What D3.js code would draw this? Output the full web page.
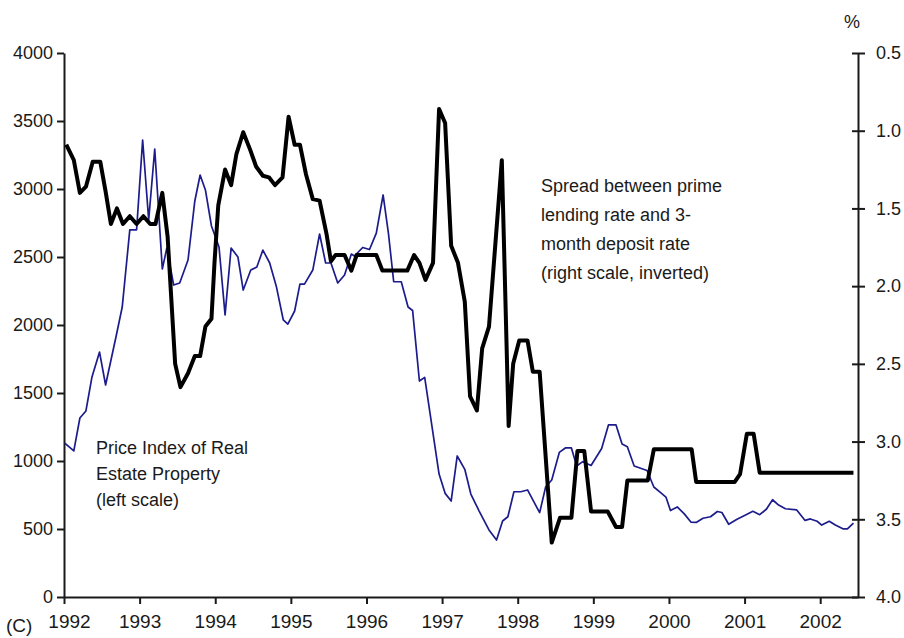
<!DOCTYPE html>
<html>
<head>
<meta charset="utf-8">
<script src="https://cdn.jsdelivr.net/npm/d3@7"></script>
<style>
    body { margin: 0; background: #fff; }
    svg text { font-family: "Liberation Sans", Arial, sans-serif; font-size: 18px; fill: #1a1a1a; }
    .axis path, .axis line { stroke: #1a1a1a; stroke-width: 2; }
    .x-axis text, .corner { font-size: 19px; }
</style>
</head>
<body>
<svg id="chart" width="904" height="638"></svg>
<script>
// price index of real estate property (left scale)
var priceYears = [ 1992.01, 1992.13, 1992.21, 1992.29, 1992.37, 1992.47, 1992.55, 1992.69, 1992.77, 1992.87,
    1992.96, 1993.04, 1993.12, 1993.20, 1993.30, 1993.36, 1993.45, 1993.53, 1993.64, 1993.73,
    1993.80, 1993.87, 1993.95, 1994.05, 1994.13, 1994.21, 1994.30, 1994.37, 1994.47, 1994.55,
    1994.63, 1994.72, 1994.81, 1994.90, 1994.96, 1995.05, 1995.12, 1995.18, 1995.29, 1995.38,
    1995.46, 1995.53, 1995.62, 1995.71, 1995.80, 1995.84, 1995.95, 1996.04, 1996.13, 1996.22,
    1996.29, 1996.36, 1996.46, 1996.55, 1996.61, 1996.70, 1996.77, 1996.96, 1997.04, 1997.12,
    1997.20, 1997.30, 1997.38, 1997.49, 1997.62, 1997.72, 1997.80, 1997.87, 1997.95, 1998.04,
    1998.13, 1998.29, 1998.37, 1998.45, 1998.55, 1998.63, 1998.71, 1998.78, 1998.86, 1998.97,
    1999.11, 1999.20, 1999.30, 1999.38, 1999.45, 1999.54, 1999.71, 1999.80, 1999.89, 1999.96,
    2000.02, 2000.11, 2000.20, 2000.29, 2000.36, 2000.45, 2000.55, 2000.64, 2000.70, 2000.79,
    2000.90, 2001.00, 2001.11, 2001.20, 2001.29, 2001.37, 2001.45, 2001.54, 2001.69, 2001.80,
    2001.87, 2001.96, 2002.02, 2002.12, 2002.20, 2002.30, 2002.36, 2002.44 ];
var priceIndex = [ 1132, 1074, 1316, 1368, 1618, 1801, 1559, 1919, 2132, 2699,
    2700, 3360, 2772, 3294, 2412, 2566, 2294, 2309, 2478, 2912,
    3103, 2993, 2728, 2574, 2074, 2566, 2500, 2257, 2404, 2426,
    2551, 2456, 2279, 2037, 2007, 2103, 2301, 2301, 2404, 2669,
    2456, 2456, 2309, 2368, 2522, 2507, 2570, 2555, 2676, 2956,
    2676, 2318, 2318, 2132, 2107, 1588, 1615, 904, 762, 706,
    1037, 939, 757, 632, 493, 419, 559, 590, 774, 774,
    787, 620, 811, 860, 1063, 1096, 1096, 963, 995, 967,
    1092, 1265, 1265, 1125, 1105, 963, 930, 809, 768, 735,
    636, 662, 613, 551, 548, 579, 590, 629, 621, 535,
    572, 599, 630, 605, 647, 715, 676, 649, 640, 563,
    574, 557, 529, 557, 529, 501, 501, 544 ];

// spread between prime lending rate and 3-month deposit rate (right scale, inverted)
var spreadYears = [ 1992.03, 1992.13, 1992.21, 1992.29, 1992.38, 1992.48, 1992.55, 1992.62, 1992.70, 1992.78,
    1992.87, 1992.96, 1993.05, 1993.14, 1993.21, 1993.30, 1993.37, 1993.47, 1993.54, 1993.64,
    1993.73, 1993.80, 1993.87, 1993.95, 1993.99, 1994.04, 1994.13, 1994.21, 1994.28, 1994.37,
    1994.46, 1994.54, 1994.63, 1994.71, 1994.79, 1994.89, 1994.97, 1995.05, 1995.12, 1995.20,
    1995.29, 1995.38, 1995.47, 1995.53, 1995.59, 1995.71, 1995.80, 1995.87, 1996.13, 1996.21,
    1996.54, 1996.63, 1996.70, 1996.78, 1996.88, 1996.96, 1997.04, 1997.12, 1997.21, 1997.30,
    1997.37, 1997.46, 1997.53, 1997.62, 1997.79, 1997.88, 1997.94, 1998.02, 1998.13, 1998.20,
    1998.29, 1998.45, 1998.56, 1998.71, 1998.79, 1998.88, 1998.97, 1999.19, 1999.30, 1999.38,
    1999.45, 1999.72, 1999.80, 2000.30, 2000.36, 2000.87, 2000.94, 2001.03, 2001.12, 2001.20,
    2002.44 ];
var spreadRate = [ 1.09, 1.19, 1.40, 1.36, 1.20, 1.20, 1.39, 1.60, 1.50, 1.60,
    1.55, 1.60, 1.55, 1.60, 1.60, 1.40, 1.68, 2.50, 2.65, 2.56,
    2.45, 2.45, 2.26, 2.21, 1.85, 1.48, 1.25, 1.35, 1.15, 1.01,
    1.12, 1.23, 1.29, 1.30, 1.35, 1.30, 0.91, 1.09, 1.09, 1.28,
    1.44, 1.45, 1.66, 1.84, 1.80, 1.80, 1.90, 1.80, 1.80, 1.90,
    1.90, 1.80, 1.85, 1.96, 1.85, 0.86, 0.95, 1.74, 1.85, 2.10,
    2.71, 2.80, 2.40, 2.26, 1.19, 2.90, 2.50, 2.35, 2.35, 2.55,
    2.55, 3.65, 3.49, 3.49, 3.06, 3.06, 3.45, 3.45, 3.55, 3.55,
    3.25, 3.25, 3.05, 3.05, 3.26, 3.26, 3.21, 2.95, 2.95, 3.20,
    3.20 ];

var yearTicks = [ 1992, 1993, 1994, 1995, 1996, 1997, 1998, 1999, 2000, 2001, 2002 ];
var leftTicks = [ 0, 500, 1000, 1500, 2000, 2500, 3000, 3500, 4000 ];
var rightTicks = [ 0.5, 1.0, 1.5, 2.0, 2.5, 3.0, 3.5, 4.0 ];

var priceNote = [ 'Price Index of Real', 'Estate Property', '(left scale)' ];
var spreadNote = [ 'Spread between prime', 'lending rate and 3-', 'month deposit rate', '(right scale, inverted)' ];

var svg = d3.select( '#chart' );

var x = d3.scaleLinear().domain( [ 1992, 2002.5 ] ).range( [ 64, 858 ] );
var yLeft = d3.scaleLinear().domain( [ 0, 4000 ] ).range( [ 597, 53 ] );
var yRight = d3.scaleLinear().domain( [ 0.5, 4.0 ] ).range( [ 53, 597 ] );

// axes
var bottom = svg.append( 'g' )
    .attr( 'class', 'axis x-axis' )
    .attr( 'transform', 'translate(0,597)' )
    .call( d3.axisBottom( x ).tickValues( yearTicks ).tickFormat( d3.format( 'd' ) )
        .tickSize( 7 ).tickSizeOuter( 0 ).tickPadding( 11 ) );
// first year label sits a little to the right, clear of the panel letter
bottom.select( '.tick text' ).attr( 'dx', 5 );

svg.append( 'g' )
    .attr( 'class', 'axis' )
    .attr( 'transform', 'translate(64,0)' )
    .call( d3.axisLeft( yLeft ).tickValues( leftTicks ).tickFormat( d3.format( 'd' ) )
        .tickSize( 7 ).tickSizeOuter( 0 ).tickPadding( 4 ) );

var right = svg.append( 'g' )
    .attr( 'class', 'axis' )
    .attr( 'transform', 'translate(858,0)' )
    .call( d3.axisRight( yRight ).tickValues( rightTicks ).tickFormat( d3.format( '.1f' ) )
        .tickSize( 7 ).tickSizeOuter( 0 ).tickPadding( 11 ) );
// ticks on the right scale cross the axis line
right.selectAll( '.tick line' ).attr( 'x1', -6 );

svg.selectAll( '.axis text' ).attr( 'fill', null );

// series
var pricePoints = d3.zip( priceYears, priceIndex );
var spreadPoints = d3.zip( spreadYears, spreadRate );

svg.append( 'path' )
    .datum( pricePoints )
    .attr( 'fill', 'none' )
    .attr( 'stroke', '#1c1c8c' )
    .attr( 'stroke-width', 1.7 )
    .attr( 'stroke-linejoin', 'round' )
    .attr( 'd', d3.line().x( function( d ) { return x( d[ 0 ] ); } ).y( function( d ) { return yLeft( d[ 1 ] ); } ) );

svg.append( 'path' )
    .datum( spreadPoints )
    .attr( 'fill', 'none' )
    .attr( 'stroke', '#000' )
    .attr( 'stroke-width', 4 )
    .attr( 'stroke-linejoin', 'round' )
    .attr( 'd', d3.line().x( function( d ) { return x( d[ 0 ] ); } ).y( function( d ) { return yRight( d[ 1 ] ); } ) );

// labels
svg.append( 'text' ).attr( 'x', 852 ).attr( 'y', 28 ).attr( 'text-anchor', 'middle' ).text( '%' );
svg.append( 'text' ).attr( 'class', 'corner' ).attr( 'x', 6 ).attr( 'y', 632 ).text( '(C)' );

svg.selectAll( 'text.price-note' )
    .data( priceNote )
    .enter().append( 'text' )
    .attr( 'class', 'price-note' )
    .attr( 'x', 96 )
    .attr( 'y', function( d, i ) { return 454 + i * 26; } )
    .text( function( d ) { return d; } );

svg.selectAll( 'text.spread-note' )
    .data( spreadNote )
    .enter().append( 'text' )
    .attr( 'class', 'spread-note' )
    .attr( 'x', 541 )
    .attr( 'y', function( d, i ) { return 192 + i * 29; } )
    .text( function( d ) { return d; } );
</script>
</body>
</html>
